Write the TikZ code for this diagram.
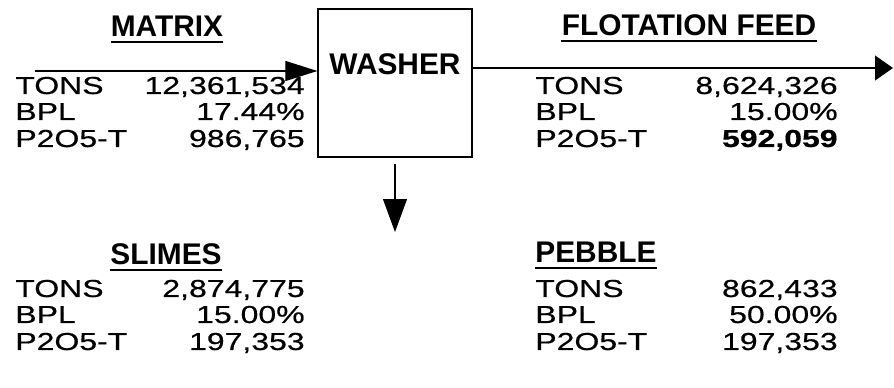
\documentclass[tikz,border=0pt]{standalone}
\usepackage{fontspec}
\setmainfont{Liberation Sans}
\newfontfamily\statfont[FakeStretch=1.3, FakeBold=0.5]{Liberation Sans}
\usetikzlibrary{arrows.meta}

\begin{document}
\begin{tikzpicture}[x=0.02cm, y=-0.02cm,
    head/.style={inner sep=0pt, anchor=base, font=\fontsize{17}{20}\selectfont\bfseries},
    lbl/.style={inner sep=0pt, anchor=base west, font=\fontsize{14}{17}\selectfont\statfont},
    val/.style={inner sep=0pt, anchor=base east, font=\fontsize{14}{17}\selectfont\statfont},
    flow/.style={line width=0.6pt, -{Triangle[length=0.64cm, width=0.4cm]}}
  ]
  \useasboundingbox (0,0) rectangle (894,388);

  \node[draw, line width=0.7pt, inner sep=0pt, anchor=base, minimum width=3.08cm,
        text height=1.32cm, text depth=1.64cm, font=\fontsize{17}{20}\selectfont\bfseries]
        (washer) at (395,75) {WASHER};

  \node[head] (matrix) at (167,37) {MATRIX};
  \node[head] (flotfeed) at (689,36) {FLOTATION FEED};
  \node[head] (slimes) at (166,265) {SLIMES};
  \node[head, anchor=base west] (pebble) at (535,263) {PEBBLE};
  \draw[line width=1pt] ([yshift=-2.8pt]matrix.base west) -- ([yshift=-2.8pt]matrix.base east);
  \draw[line width=1pt] ([yshift=-2.8pt]flotfeed.base west) -- ([yshift=-2.8pt]flotfeed.base east);
  \draw[line width=1pt] ([yshift=-2.8pt]slimes.base west) -- ([yshift=-2.8pt]slimes.base east);
  \draw[line width=1pt] ([yshift=-2.8pt]pebble.base west) -- ([yshift=-2.8pt]pebble.base east);

  \node[lbl] (mtons) at (15,94) {TONS};
  \node[val] (mtonsv) at (305,94) {12,361,534};
  \node[lbl] (mbpl) at (15,120) {BPL};
  \node[val] (mbplv) at (305,120) {17.44\%};
  \node[lbl] (mp2o5) at (15,147) {P2O5-T};
  \node[val] (mp2o5v) at (305,147) {986,765};

  \node[lbl] (ftons) at (535,94) {TONS};
  \node[val] (ftonsv) at (838,94) {8,624,326};
  \node[lbl] (fbpl) at (535,120) {BPL};
  \node[val] (fbplv) at (838,120) {15.00\%};
  \node[lbl] (fp2o5) at (535,147) {P2O5-T};
  \node[val] (fp2o5v) at (838,147) {\bfseries 592,059};

  \node[lbl] (stons) at (15,297) {TONS};
  \node[val] (stonsv) at (305,297) {2,874,775};
  \node[lbl] (sbpl) at (15,323) {BPL};
  \node[val] (sbplv) at (305,323) {15.00\%};
  \node[lbl] (sp2o5) at (15,350) {P2O5-T};
  \node[val] (sp2o5v) at (305,350) {197,353};

  \node[lbl] (ptons) at (535,297) {TONS};
  \node[val] (ptonsv) at (838,297) {862,433};
  \node[lbl] (pbpl) at (535,323) {BPL};
  \node[val] (pbplv) at (838,323) {50.00\%};
  \node[lbl] (pp2o5) at (535,350) {P2O5-T};
  \node[val] (pp2o5v) at (838,350) {197,353};

  \coordinate (feedin) at (35,71);
  \coordinate (feedout) at (893,68);
  \coordinate (slimesout) at (395,232);
  \draw[flow] (feedin) -- (feedin -| washer.west);
  \draw[flow, -{Triangle[length=0.36cm, width=0.5cm]}] (washer.east |- feedout) -- (feedout);
  \draw[flow, -{Triangle[length=0.66cm, width=0.48cm]}, shorten <=0.12cm] (washer.south) -- (slimesout);
\end{tikzpicture}
\end{document}
